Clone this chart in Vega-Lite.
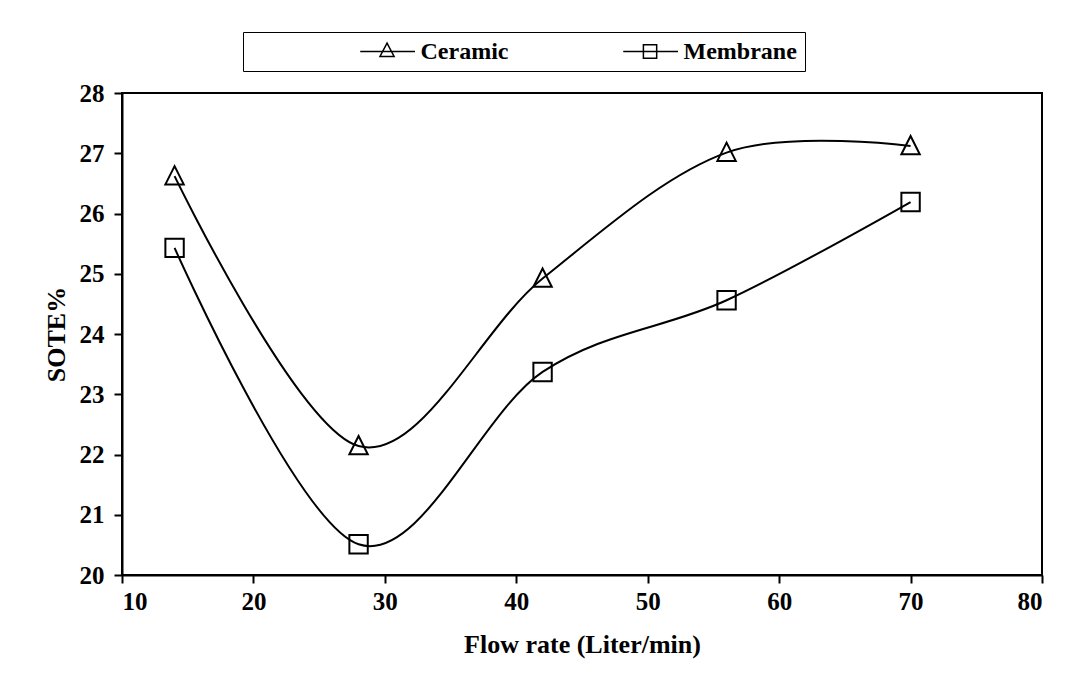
{
  "$schema": "https://vega.github.io/schema/vega-lite/v6.json",
  "width": 920,
  "height": 482,
  "autosize": {"type": "none"},
  "padding": {"left": 122, "top": 93, "right": 41, "bottom": 110},
  "background": "white",
  "config": {
    "font": "Liberation Serif",
    "view": {"stroke": "black", "strokeWidth": 2},
    "axis": {
      "domainColor": "black", "domainWidth": 2,
      "tickColor": "black", "tickWidth": 2, "tickSize": 8,
      "grid": false,
      "labelFont": "Liberation Serif", "labelFontSize": 25, "labelFontWeight": "bold", "labelColor": "black",
      "titleFont": "Liberation Serif", "titleFontSize": 26, "titleFontWeight": "bold", "titleColor": "black"
    }
  },
  "data": {
    "values": [
      {"series": "Ceramic", "flow": 14, "sote": 26.62},
      {"series": "Ceramic", "flow": 28, "sote": 22.14},
      {"series": "Ceramic", "flow": 42, "sote": 24.92},
      {"series": "Ceramic", "flow": 56, "sote": 27.01},
      {"series": "Ceramic", "flow": 70, "sote": 27.12},
      {"series": "Membrane", "flow": 14, "sote": 25.43},
      {"series": "Membrane", "flow": 28, "sote": 20.51},
      {"series": "Membrane", "flow": 42, "sote": 23.37},
      {"series": "Membrane", "flow": 56, "sote": 24.56},
      {"series": "Membrane", "flow": 70, "sote": 26.19}
    ]
  },
  "encoding": {
    "x": {"field": "flow", "type": "quantitative", "scale": {"domain": [10, 80], "nice": false}, "axis": {"values": [10, 20, 30, 40, 50, 60, 70, 80], "format": "d", "title": "Flow rate (Liter/min)", "labelPadding": 6, "titlePadding": 17}},
    "y": {"field": "sote", "type": "quantitative", "scale": {"domain": [20, 28], "nice": false, "zero": false}, "axis": {"values": [20, 21, 22, 23, 24, 25, 26, 27, 28], "format": "d", "title": "SOTE%", "labelPadding": 10, "titlePadding": 10}}
  },
  "layer": [
    {
      "mark": {"type": "line", "interpolate": "cardinal", "color": "black", "strokeWidth": 2},
      "encoding": {
        "detail": {"field": "series", "type": "nominal"}
      }
    },
    {
      "mark": {"type": "point", "filled": false, "color": "black", "strokeWidth": 2, "size": 338, "opacity": 1},
      "encoding": {
        "shape": {
          "field": "series", "type": "nominal",
          "scale": {"domain": ["Ceramic", "Membrane"], "range": ["M0,-1.09L1,0.9L-1,0.9Z", "M-1,-1H1V1H-1Z"]},
          "legend": null
        }
      }
    },
    {
      "mark": {"type": "point", "filled": false, "color": "black", "strokeWidth": 1.5, "opacity": 0},
      "encoding": {
        "shape": {
          "field": "series", "type": "nominal",
          "scale": {"domain": ["Ceramic", "Membrane"], "range": ["M-1,0L-1,0M0.31,0L0.97,0M0.633,-0.1L0.718,0.06L0.548,0.06Z", "M-1,0L-1,0M0.31,0L0.97,0M0.553,-0.08H0.713V0.08H0.553Z"]},
          "legend": {
            "title": null,
            "orient": "none",
            "legendX": 121,
            "legendY": -61,
            "direction": "horizontal",
            "padding": 7.5,
            "strokeColor": "black",
            "fillColor": "white",
            "symbolSize": 27556,
            "symbolStrokeWidth": 1.5,
            "symbolStrokeColor": "black",
            "symbolFillColor": "transparent",
            "symbolOpacity": 1,
            "clipHeight": 24,
            "labelFont": "Liberation Serif",
            "labelFontSize": 24,
            "labelFontWeight": "bold",
            "labelColor": "black",
            "labelOffset": 2,
            "columnPadding": 5,
            "encode": {
              "legend": {"update": {"strokeWidth": {"value": 2}}}
            }
          }
        }
      }
    }
  ],
  "resolve": {"scale": {"shape": "independent"}, "legend": {"shape": "independent"}}
}
